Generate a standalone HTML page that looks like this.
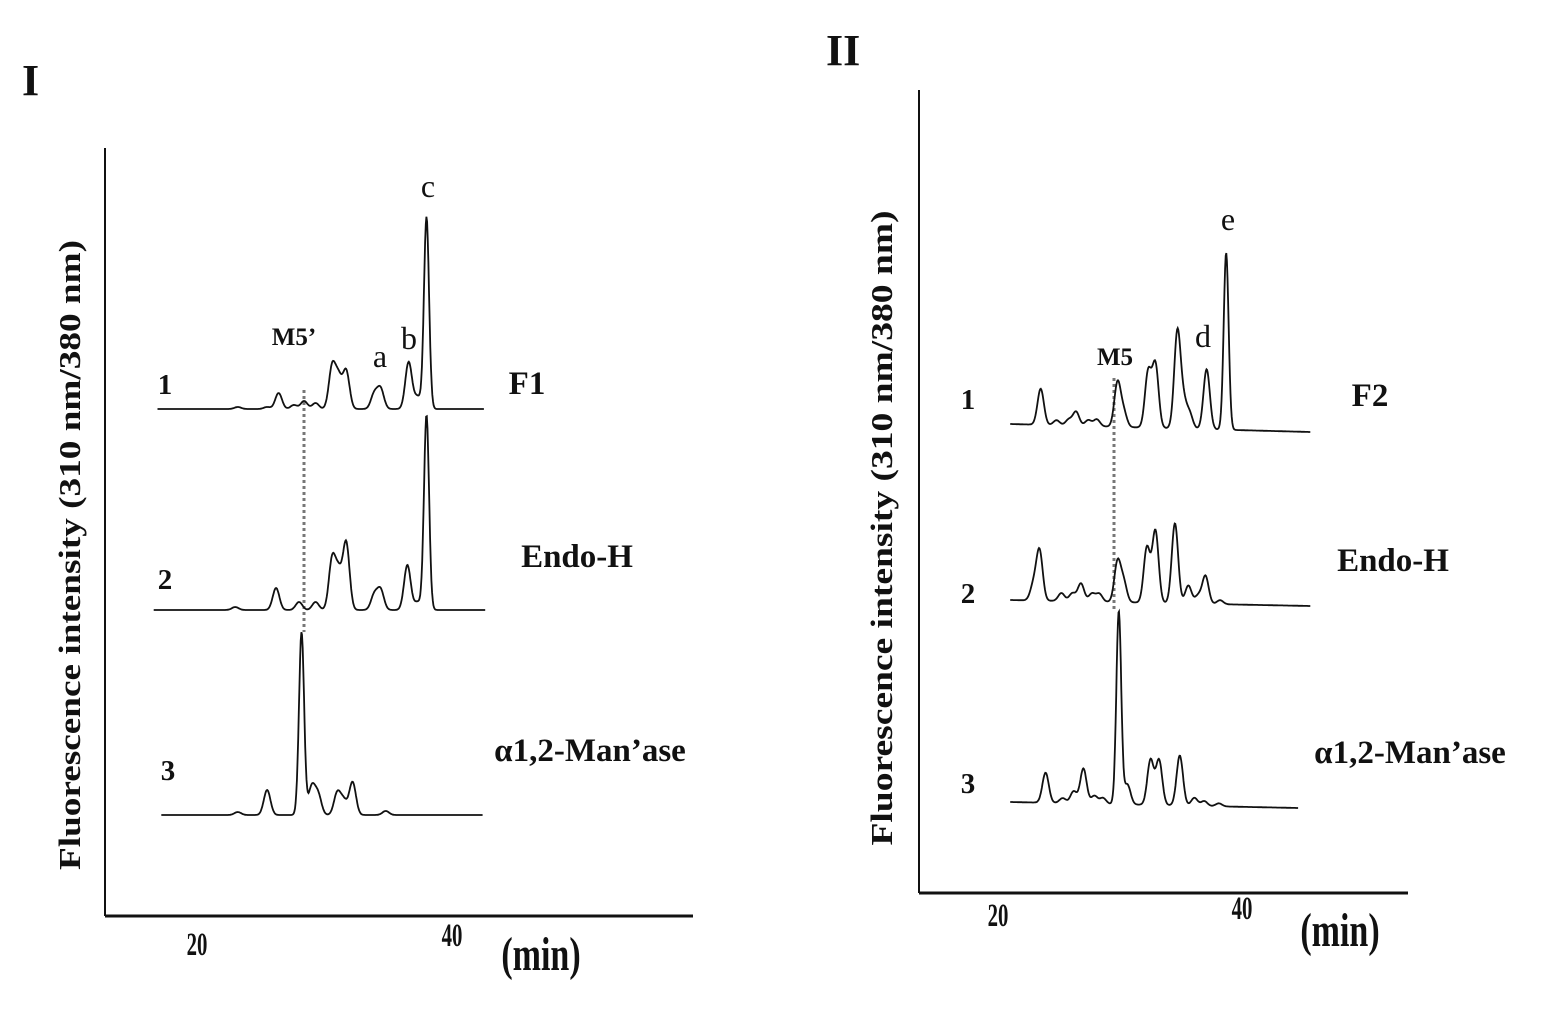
<!DOCTYPE html>
<html><head><meta charset="utf-8">
<style>
html,body{margin:0;padding:0;background:#fff;}
svg{display:block;}
text{font-family:"Liberation Serif",serif;fill:#111;}
.b{font-weight:bold;}
</style></head>
<body>
<svg id="fig" width="1559" height="1011" viewBox="0 0 1559 1011">
  <g>
    <text x="22" y="95" class="b" font-size="44">I</text>
    <line x1="105" y1="148" x2="105" y2="916" stroke="#111" stroke-width="2"/>
    <line x1="105" y1="916" x2="693" y2="916" stroke="#111" stroke-width="3"/>
    <text transform="translate(80,555) rotate(-90)" text-anchor="middle" class="b" font-size="31" textLength="630" lengthAdjust="spacingAndGlyphs">Fluorescence intensity (310 nm/380 nm)</text>
    <text transform="translate(197,955) scale(0.8,1.25)" text-anchor="middle" class="b" font-size="26">20</text>
    <text transform="translate(452,946) scale(0.8,1.25)" text-anchor="middle" class="b" font-size="26">40</text>
    <text transform="translate(541,970) scale(0.85,1.2)" text-anchor="middle" class="b" font-size="40">(min)</text>
    <line x1="304" y1="390" x2="304" y2="632" stroke="#777" stroke-width="3" stroke-dasharray="3,3"/>
    <text x="294" y="345" text-anchor="middle" class="b" font-size="25">M5’</text>
    <text x="380" y="367" text-anchor="middle" font-size="32">a</text>
    <text x="409" y="349" text-anchor="middle" font-size="32">b</text>
    <text x="428" y="197" text-anchor="middle" font-size="32">c</text>
    <text x="165" y="394" text-anchor="middle" class="b" font-size="29">1</text>
    <text x="165" y="589" text-anchor="middle" class="b" font-size="29">2</text>
    <text x="168" y="780" text-anchor="middle" class="b" font-size="29">3</text>
    <text x="527" y="394" text-anchor="middle" class="b" font-size="33">F1</text>
    <text x="577" y="567" text-anchor="middle" class="b" font-size="33">Endo-H</text>
    <text x="590" y="761" text-anchor="middle" class="b" font-size="33">α1,2-Man’ase</text>
  </g>
  <g>
    <text x="826" y="65" class="b" font-size="44">II</text>
    <line x1="919" y1="90" x2="919" y2="893" stroke="#111" stroke-width="2"/>
    <line x1="919" y1="893" x2="1408" y2="893" stroke="#111" stroke-width="3"/>
    <text transform="translate(892,528) rotate(-90)" text-anchor="middle" class="b" font-size="31" textLength="635" lengthAdjust="spacingAndGlyphs">Fluorescence intensity (310 nm/380 nm)</text>
    <text transform="translate(998,926) scale(0.8,1.25)" text-anchor="middle" class="b" font-size="26">20</text>
    <text transform="translate(1242,919) scale(0.8,1.25)" text-anchor="middle" class="b" font-size="26">40</text>
    <text transform="translate(1340,946) scale(0.85,1.2)" text-anchor="middle" class="b" font-size="40">(min)</text>
    <line x1="1114" y1="378" x2="1114" y2="610" stroke="#777" stroke-width="3" stroke-dasharray="3,3"/>
    <text x="1115" y="365" text-anchor="middle" class="b" font-size="25">M5</text>
    <text x="1203" y="347" text-anchor="middle" font-size="32">d</text>
    <text x="1228" y="230" text-anchor="middle" font-size="32">e</text>
    <text x="968" y="409" text-anchor="middle" class="b" font-size="29">1</text>
    <text x="968" y="603" text-anchor="middle" class="b" font-size="29">2</text>
    <text x="968" y="793" text-anchor="middle" class="b" font-size="29">3</text>
    <text x="1370" y="406" text-anchor="middle" class="b" font-size="33">F2</text>
    <text x="1393" y="571" text-anchor="middle" class="b" font-size="33">Endo-H</text>
    <text x="1410" y="763" text-anchor="middle" class="b" font-size="33">α1,2-Man’ase</text>
  </g>
  <g id="traces"></g>
</svg>
<script>
// Retention times (min) and peak heights (fluorescence, arbitrary px units)
const i1Times = [23.2,25.5,26.4,27.6,28.4,29.3,30.6,31.1,31.7,33.9,34.4,36.6,37.3,38.0];
const i1Heights = [2,2,16,4,8,6,42,30,38,15,20,47,12,192];
const i2Times = [23.0,26.2,28.0,29.3,30.6,31.1,31.7,33.9,34.4,36.5,37.3,38.0];
const i2Heights = [3,22,8,8,50,35,67,15,20,45,8,195];
const i3Times = [23.2,25.5,28.2,29.0,29.5,31.0,31.5,32.2,34.8];
const i3Heights = [3,25,183,28,20,22,14,33,4];
const ii1Times = [23.5,24.8,25.8,26.4,27.4,28.1,29.8,30.3,32.3,32.9,34.7,35.2,35.7,37.1,38.7];
const ii1Heights = [36,5,6,14,6,7,44,15,55,63,96,25,15,60,177];
const ii2Times = [22.9,23.4,25.2,26.1,26.8,27.7,28.3,29.8,30.3,32.2,32.9,34.5,35.6,36.4,37.0,38.2];
const ii2Heights = [15,50,8,8,18,8,8,40,20,55,72,80,18,8,28,4];
const ii3Times = [23.9,25.3,26.2,27.0,27.9,28.6,29.9,30.6,32.5,33.2,34.9,36.1,36.9,38.1];
const ii3Heights = [30,5,12,35,8,6,193,20,45,45,50,8,5,3];

function xScaleI(t){ return 197 + (t-20)*12.75; }
function xScaleII(t){ return 998 + (t-20)*12.2; }

const traces = [
  {name:'trace-i-1-f1', times:i1Times, heights:i1Heights, xs:xScaleI, t0:16.9, t1:42.5, base:409, drift:0},
  {name:'trace-i-2-endo-h', times:i2Times, heights:i2Heights, xs:xScaleI, t0:16.6, t1:42.6, base:610, drift:0},
  {name:'trace-i-3-mannosidase', times:i3Times, heights:i3Heights, xs:xScaleI, t0:17.2, t1:42.4, base:815, drift:0},
  {name:'trace-ii-1-f2', times:ii1Times, heights:ii1Heights, xs:xScaleII, t0:21.0, t1:45.6, base:424, drift:8},
  {name:'trace-ii-2-endo-h', times:ii2Times, heights:ii2Heights, xs:xScaleII, t0:21.0, t1:45.6, base:600, drift:6},
  {name:'trace-ii-3-mannosidase', times:ii3Times, heights:ii3Heights, xs:xScaleII, t0:21.0, t1:44.6, base:802, drift:6}
];
const g = document.getElementById('traces');
traces.forEach(tr=>{
  let d = '';
  const n = 500;
  for(let k=0;k<=n;k++){
    const t = tr.t0 + (tr.t1-tr.t0)*k/n;
    let y = tr.base + tr.drift*(k/n);
    for(let j=0;j<tr.times.length;j++){
      const w = tr.heights[j] > 100 ? 0.2 : 0.26;
      y -= tr.heights[j]*Math.exp(-Math.pow((t-tr.times[j])/w,2)/2);
    }
    d += (k?'L':'M') + tr.xs(t).toFixed(1) + ' ' + y.toFixed(1);
  }
  const p = document.createElementNS('http://www.w3.org/2000/svg','path');
  p.setAttribute('d', d);
  p.setAttribute('fill','none');
  p.setAttribute('stroke','#111');
  p.setAttribute('stroke-width','1.8');
  
  
  g.appendChild(p);
});
</script>
</body></html>
